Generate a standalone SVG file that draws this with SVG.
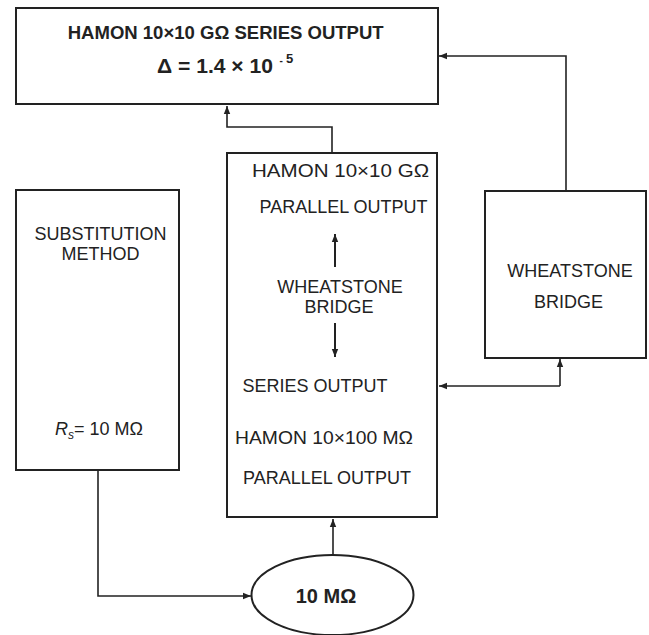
<svg xmlns="http://www.w3.org/2000/svg" width="649" height="635" viewBox="0 0 649 635">
<defs>
<marker id="ah" markerUnits="userSpaceOnUse" markerWidth="8" markerHeight="8" viewBox="0 0 8 8" refX="8" refY="4" orient="auto">
<path d="M0,0.8 L8,4 L0,7.2 Z" fill="#222"/>
</marker>
</defs>
<style>
.box{fill:#fff;stroke:#222;stroke-width:2}
.ln{fill:none;stroke:#222;stroke-width:1.6}
.in{fill:none;stroke:#222;stroke-width:2}
.t{font-family:"Liberation Sans",Arial,sans-serif;font-size:18px;fill:#222;text-anchor:middle}
.b{font-family:"Liberation Sans",Arial,sans-serif;font-weight:bold;fill:#222}
</style>
<rect width="649" height="635" fill="#fff"/>
<g id="top">
<rect class="box" x="16" y="8" width="422" height="96"/>
<text class="b" x="67.7" y="39" font-size="17.5" textLength="316" lengthAdjust="spacingAndGlyphs">HAMON 10×10 GΩ SERIES OUTPUT</text>
<text class="b" x="157" y="73" font-size="19.5" textLength="116" lengthAdjust="spacingAndGlyphs">Δ = 1.4 × 10</text>
<text class="b" x="279.5" y="64" font-size="10">-</text>
<text class="b" x="286" y="63" font-size="13">5</text>
</g>
<g id="middle">
<rect class="box" x="227" y="153" width="210" height="364"/>
<text class="t" x="340.5" y="176.5" font-size="19" textLength="177" lengthAdjust="spacingAndGlyphs">HAMON 10×10 GΩ</text>
<text class="t" x="343.5" y="213">PARALLEL OUTPUT</text>
<text class="t" x="340" y="292.7">WHEATSTONE</text>
<text class="t" x="339" y="312.7">BRIDGE</text>
<text class="t" x="315" y="392">SERIES OUTPUT</text>
<text class="t" x="324" y="444" font-size="19" textLength="178" lengthAdjust="spacingAndGlyphs">HAMON 10×100 MΩ</text>
<text class="t" x="327" y="484">PARALLEL OUTPUT</text>
</g>
<g id="right">
<rect class="box" x="485" y="191" width="161" height="167"/>
<text class="t" x="570" y="277">WHEATSTONE</text>
<text class="t" x="568.5" y="308">BRIDGE</text>
</g>
<g id="left">
<rect class="box" x="16" y="190" width="163" height="280"/>
<text class="t" x="100.5" y="240">SUBSTITUTION</text>
<text class="t" x="100.5" y="260">METHOD</text>
<text class="t" x="99" y="435" font-size="17.5"><tspan font-style="italic">R</tspan><tspan font-style="italic" font-size="12" dy="4">s</tspan><tspan dy="-4">= 10 MΩ</tspan></text>
</g>
<g id="ellipse">
<ellipse cx="332.5" cy="595" rx="81" ry="40" fill="#fff" stroke="#222" stroke-width="2"/>
<text class="b" x="326" y="602.5" font-size="20" text-anchor="middle">10 MΩ</text>
</g>
<g id="connectors">
<path class="ln" d="M332,152 V127 H227 V106" marker-end="url(#ah)"/>
<path class="ln" d="M566,190 V56 H439" marker-end="url(#ah)"/>
<path class="ln" d="M560,386 H439" marker-end="url(#ah)"/>
<path class="ln" d="M560,386 V359" marker-end="url(#ah)"/>
<path class="ln" d="M98,470 V596 H251" marker-end="url(#ah)"/>
<path class="ln" d="M333,555 V519" marker-end="url(#ah)"/>
<path class="in" d="M335,267 V234" marker-end="url(#ah)"/>
<path class="in" d="M335,323 V357" marker-end="url(#ah)"/>
</g>
</svg>
